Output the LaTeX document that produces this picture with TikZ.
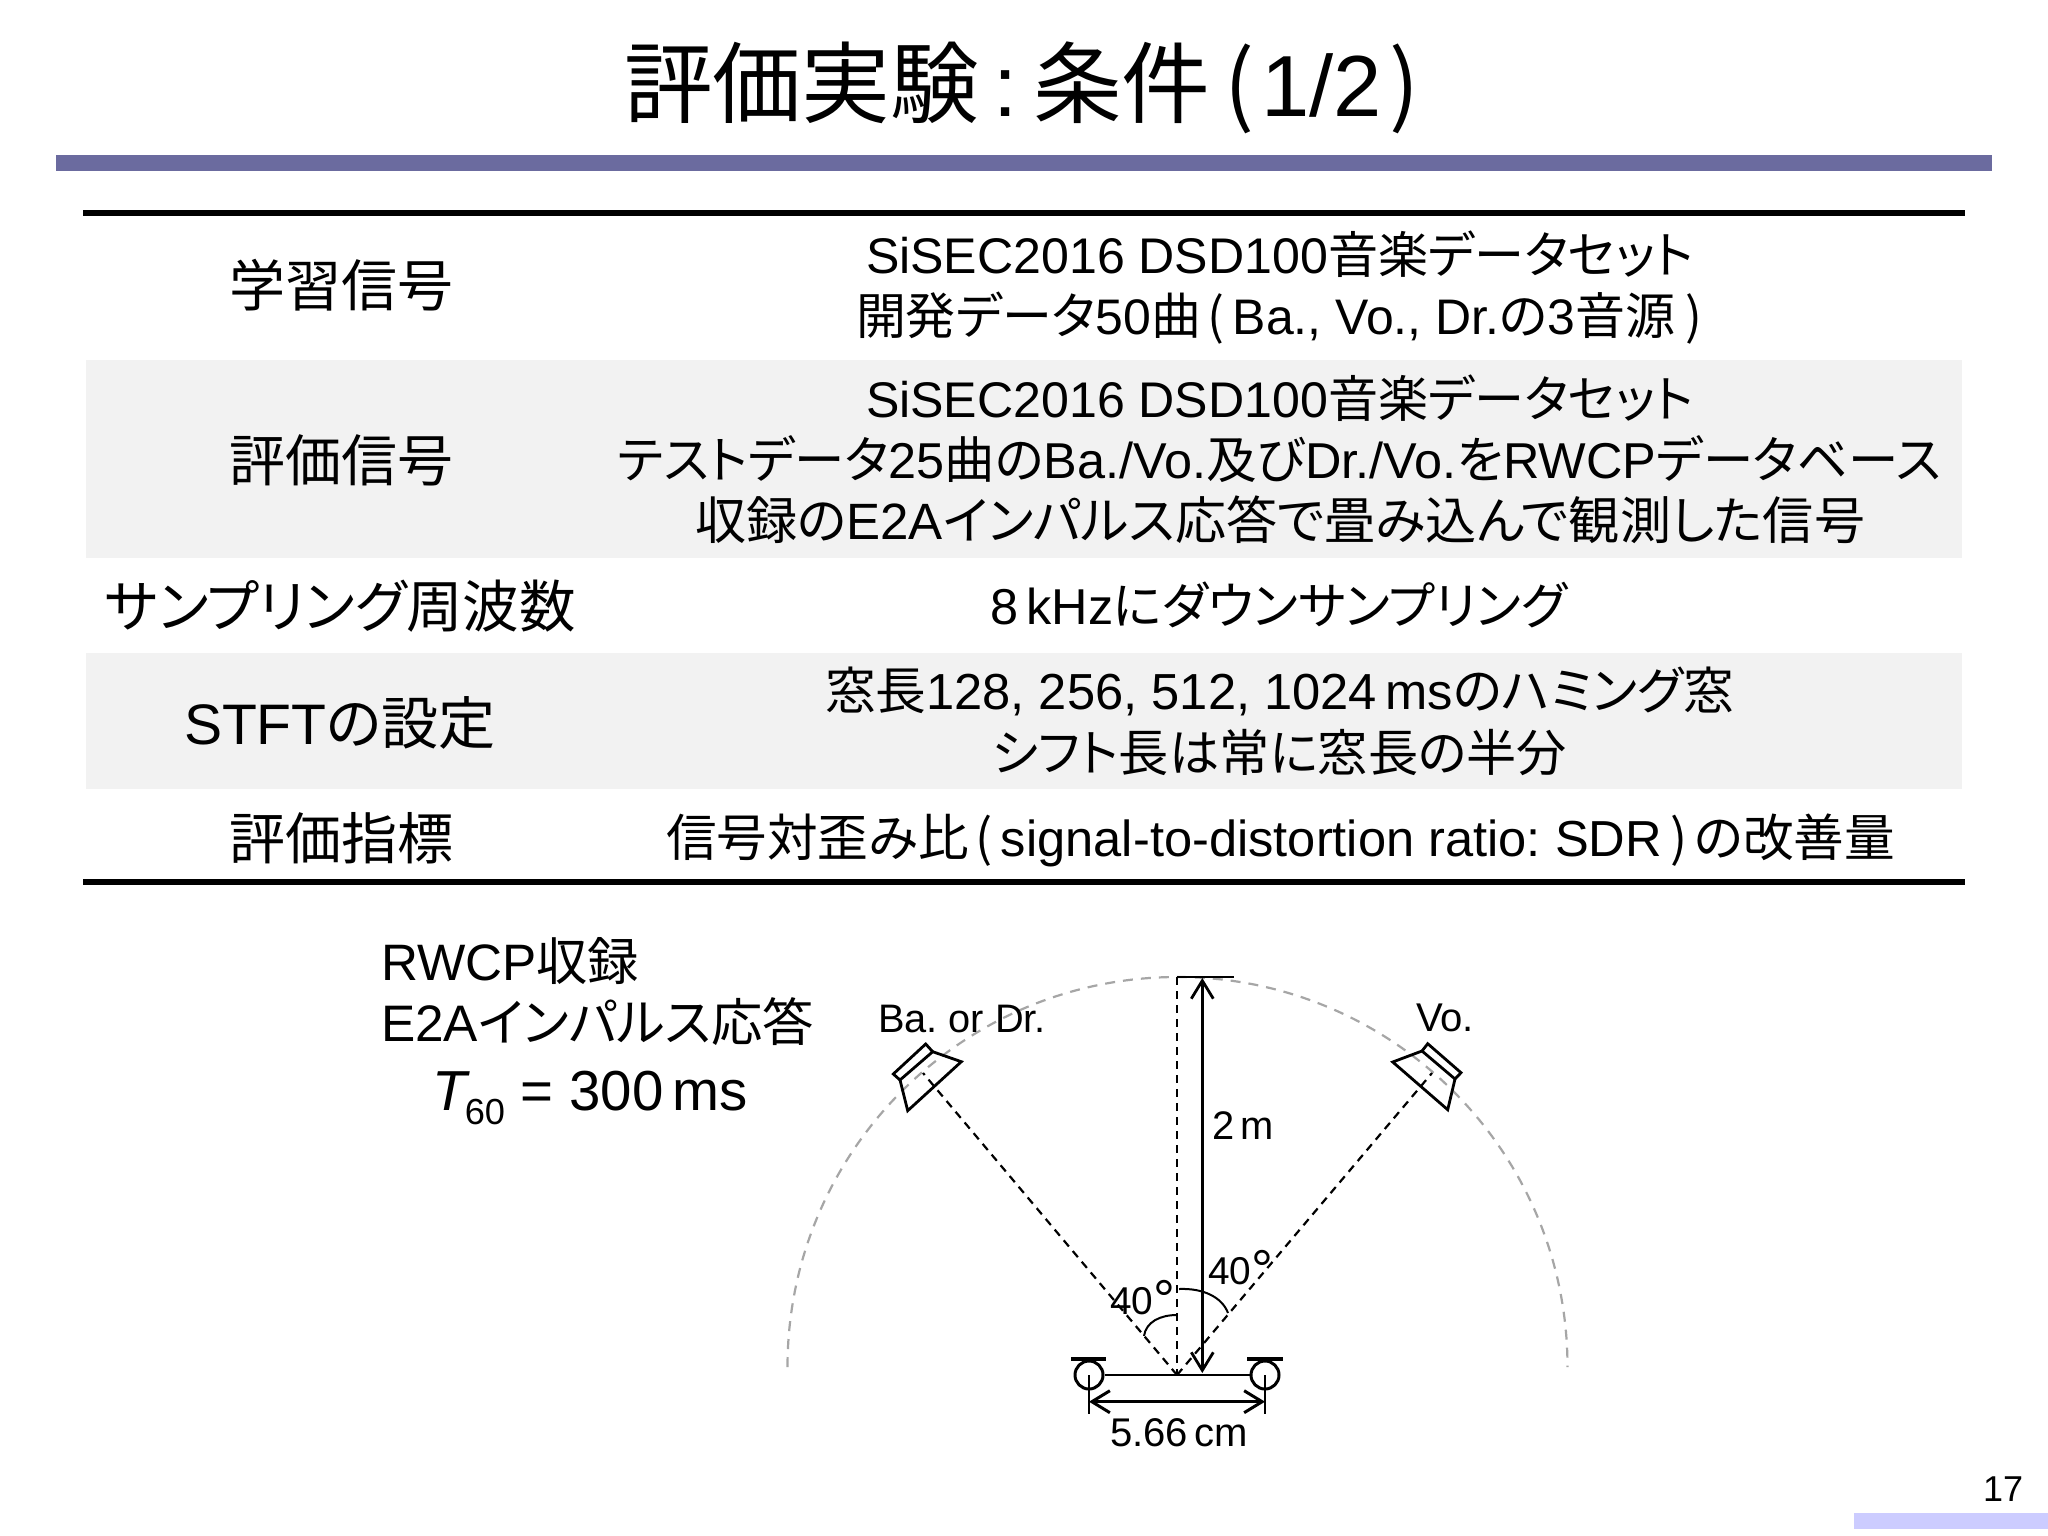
\documentclass[tikz,border=0pt]{standalone}
\usepackage{fontspec}
\usepackage{graphicx}
\usetikzlibrary{arrows.meta}
\setmainfont{Liberation Sans}
\newfontfamily\cjk[RawFeature=+palt]{Noto Sans CJK JP}
\newcommand\J[1]{{\cjk #1}}
\newcommand\LP{\kern.14em{\cjk(}\kern.16em}
\newcommand\RP{\kern.16em{\cjk)}\kern.14em}
\newcommand\RPend{\kern.2em{\cjk)}}
\newcommand\fitt[6]{\node[anchor=base west,inner sep=0pt,outer sep=0pt] (#1) at (#2,#4) {\resizebox{\dimexpr #3pt-#2pt\relax}{!}{\fontsize{#5}{#5}\selectfont\frenchspacing\strut #6}};}
\newcommand\dg{\raisebox{-5pt}{\fontsize{55}{55}\selectfont °}}
\definecolor{bandc}{HTML}{6B6B9F}
\definecolor{cornerc}{HTML}{CCCCFF}
\definecolor{rowc}{HTML}{F2F2F2}
\definecolor{arcc}{HTML}{A6A6A6}
\tikzset{
 rulel/.style={line width=5.5pt},
 dashl/.style={line width=2.2pt,dash pattern=on 8pt off 6pt},
 arcl/.style={line width=2.2pt,color=arcc,dash pattern=on 10pt off 8pt},
 solidl/.style={line width=2.8pt},
 spk/.style={line width=2.8pt,line join=miter},
 dimtip/.style={{Straight Barb[length=18pt,width=22pt,line width=3pt]}-{Straight Barb[length=18pt,width=22pt,line width=3pt]}},
 mic/.style={circle,draw,line width=3pt,minimum size=28pt,inner sep=0pt}
}
\begin{document}
\begin{tikzpicture}[x=1pt,y=-1pt]
\useasboundingbox (0,0) rectangle (2048,1536);
\fill[white] (0,0) rectangle (2048,1536);
% frame
\fill[bandc] (56,155) rectangle (1992,171);
\fill[cornerc] (1854,1513) rectangle (2048,1529);
\fill[rowc] (86,360) rectangle (1962,558);
\fill[rowc] (86,653) rectangle (1962,789);
\coordinate (rtl) at (83,213); \coordinate (rtr) at (1965,213);
\coordinate (rbl) at (83,882); \coordinate (rbr) at (1965,882);
\draw[rulel] (rtl) -- (rtr);
\draw[rulel] (rbl) -- (rbr);
% title
\fitt{title}{624}{1419}{117}{89}{\J{評価実験}\kern15pt{\fontsize{87}{87}\selectfont:}\kern15pt\J{条件}\kern14pt\J{(}\kern7pt{\fontsize{87}{87}\selectfont 1/2}\kern7pt\J{)}}
% labels
\fitt{la}{229}{453}{306}{55}{\J{学習信号}}
\fitt{lb}{229}{453}{481}{55}{\J{評価信号}}
\fitt{lc}{105}{576}{627}{55}{\J{サンプリング周波数}}
\fitt{ld}{184}{496}{744}{55}{STFT\J{の設定}}
\fitt{le}{229}{453}{859}{55}{\J{評価指標}}
% body
\fitt{a1}{866}{1694}{273}{46}{SiSEC2016 DSD100\J{音楽データセット}}
\fitt{a2}{856}{1702}{334}{46}{\J{開発データ}50\J{曲}\LP Ba., Vo., Dr.\J{の}3\J{音源}\RPend}
\fitt{b1}{866}{1694}{417}{46}{SiSEC2016 DSD100\J{音楽データセット}}
\fitt{b2}{618}{1941}{478}{46}{\J{テストデータ}25\J{曲の}Ba./Vo.\J{及び}Dr./Vo.\J{を}RWCP\J{データベース}}
\fitt{b3}{695}{1865}{539}{46}{\J{収録の}E2A\J{インパルス応答で畳み込んで観測した信号}}
\fitt{c1}{990}{1567}{624}{46}{8\,kHz\J{にダウンサンプリング}}
\fitt{d1}{825}{1734}{709}{46}{\J{窓長}128, 256, 512, 1024\,ms\J{のハミング窓}}
\fitt{d2}{992}{1567}{771}{46}{\J{シフト長は常に窓長の半分}}
\fitt{e1}{666}{1895}{856}{46}{\J{信号対歪み比}\LP signal-to-distortion ratio: SDR\RP\J{の改善量}}
% caption
\fitt{r1}{381}{639}{980}{49}{RWCP\J{収録}}
\fitt{r2}{381}{814}{1041.5}{49}{E2A\J{インパルス応答}}
\fitt{r3}{432}{748}{1110}{56}{\textit{T}\kern-5pt\raisebox{-14pt}{\fontsize{36}{36}\selectfont 60} = 300\,ms}
% geometry
\coordinate (o) at (1177,1375);
\coordinate (top) at (1177,977);
\coordinate (topr) at (1234,977);
\coordinate (spkl) at (923,1073);
\coordinate (spkr) at (1432,1073);
\coordinate (arcs) at (787.5,1367);
\draw[arcl] (arcs) arc[start angle=180,end angle=0,x radius=390,y radius=-390];
\draw[dashl] (top) -- (o);
\draw[dashl] (o) -- (spkl);
\draw[dashl] (o) -- (spkr);
\draw[solidl] (top) -- (topr);
\coordinate (arrt) at (1202.3,978);
\coordinate (arrb) at (1202.3,1373);
\draw[solidl,{Straight Barb[length=18pt,width=22pt,line width=2.8pt]}-{Straight Barb[length=18pt,width=22pt,line width=2.8pt]}] (arrt) -- (arrb);
% left speaker
\draw[spk] (893.3,1074) -- (925.7,1044) -- (932.7,1051.7) -- (900,1080) -- cycle;
\draw[spk] (932.7,1051.7) -- (961.3,1061.7) -- (907.7,1110.7) -- (900,1080);
% right speaker
\draw[spk] (1461,1072.7) -- (1427.7,1043.7) -- (1422,1051) -- (1455,1079) -- cycle;
\draw[spk] (1422,1051) -- (1392.7,1062) -- (1447.7,1109.7) -- (1455,1079);
% angle arcs
\coordinate (ar1) at (1179,1289); \coordinate (ar2) at (1228,1313);
\coordinate (al1) at (1177,1315); \coordinate (al2) at (1144,1336);
\draw[line width=2pt] (ar1) .. controls (1203,1288) and (1222,1297) .. (ar2);
\draw[line width=2pt] (al1) .. controls (1160,1315) and (1146,1322) .. (al2);
% mics
\node[mic] (ml) at (1089,1375) {};
\node[mic] (mr) at (1265,1375) {};
\draw[rulel,line width=4pt] (1071,1359) -- (1106,1359);
\draw[rulel,line width=4pt] (1247,1359) -- (1283,1359);
\draw[solidl] (ml) -- (mr);
\coordinate (tl) at (1089,1414); \coordinate (tr) at (1265,1414);
\draw[solidl] (ml.center) -- (tl);
\draw[solidl] (mr.center) -- (tr);
\coordinate (dl) at (1089,1401.7); \coordinate (dr) at (1265,1401.7);
\draw[dimtip,line width=3pt] (dl) -- (dr);
% small labels
\fitt{tba}{878}{1046}{1032}{39}{Ba. or Dr.}
\fitt{tvo}{1416}{1474}{1031}{39}{Vo.}
\fitt{t2m}{1212}{1274}{1139}{39}{2\,m}
\fitt{t40l}{1110}{1175}{1314}{39}{40\dg}
\fitt{t40r}{1208}{1273}{1284}{39}{40\dg}
\fitt{tcm}{1110}{1248}{1446}{39}{5.66\,cm}
\fitt{tno}{1983}{2023}{1501}{39}{17}
\end{tikzpicture}
\end{document}
